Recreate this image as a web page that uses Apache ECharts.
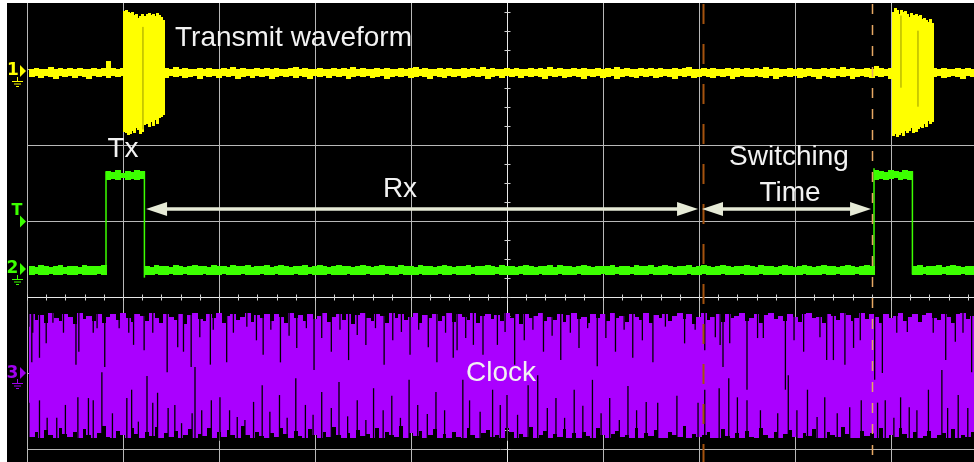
<!DOCTYPE html>
<html><head><meta charset="utf-8">
<script src="https://cdn.jsdelivr.net/npm/echarts@6/dist/echarts.min.js"></script>
<style>html,body{margin:0;padding:0;background:#fff}#c{width:974px;height:462px}</style>
</head><body><div id="c"></div>
<script>
// ===== DATA (x in divisions, y in hundredths of a division relative to each channel's ground marker) =====
const sliceStart = 0.023;   // first sample time (div)
const sliceStep = 0.05;     // sample spacing (div)

// Channel 1 (yellow) baseline envelope
const ch1Hi = [
5,6,5,5,7,5,6,5,6,5, 6,5,5,6,5,6,15,6,5,6, 5,6,5,5,6,5,6,5,6,5, 7,5,6,5,5,6,5,6,5,5,
6,5,7,5,6,5,5,6,5,6, 5,6,5,5,6,7,5,6,5,5, 6,5,5,6,5,6,5,7,5,6, 5,5,6,5,6,5,5,6,5,6,
7,5,6,5,5,6,5,6,5,5, 6,5,6,5,7,5,6,5,5,6, 5,6,5,5,6,5,6,5,7,5, 6,5,5,6,5,6,5,5,6,5,
6,5,7,5,6,5,5,6,5,6, 5,6,5,5,6,5,6,7,5,5, 6,5,6,5,5,6,5,6,5,6, 5,6,5,7,5,6,5,5,6,5,
6,5,6,5,5,6,5,6,5,7, 5,6,5,5,6,5,9,6,5,6, 5,6,5,6,5,5,6,5,6,5, 6,5,5,6,5,6,5];
const ch1Lo = [
-6,-5,-7,-5,-6,-8,-5,-6,-5,-7, -5,-6,-8,-5,-6,-5,-7,-5,-6,-5, -7,-5,-6,-5,-8,-6,-5,-6,-7,-5, -6,-5,-7,-6,-5,-8,-5,-6,-5,-7,
-5,-6,-5,-8,-6,-5,-7,-5,-6,-5, -8,-6,-5,-6,-5,-7,-5,-6,-8,-5, -6,-5,-7,-5,-6,-5,-8,-6,-5,-6, -5,-7,-6,-5,-8,-6,-5,-6,-5,-7,
-6,-5,-6,-8,-5,-6,-7,-5,-6,-5, -7,-6,-5,-6,-5,-8,-6,-5,-7,-5, -6,-5,-7,-5,-6,-5,-6,-8,-5,-6, -5,-7,-6,-5,-6,-8,-5,-6,-5,-7,
-6,-5,-8,-6,-5,-6,-7,-5,-6,-5, -7,-6,-5,-6,-8,-5,-6,-5,-7,-6, -5,-6,-7,-5,-6,-5,-8,-6,-5,-6, -6,-5,-6,-7,-5,-8,-6,-5,-6,-5,
-7,-6,-5,-6,-8,-5,-6,-7,-5,-6, -5,-8,-6,-5,-6,-7,-5,-6,-5,-8, -6,-5,-7,-6,-5,-6,-8,-5,-6,-5, -7,-6,-5,-6,-8,-5,-6];

// Channel 1 transmit bursts (finer sampling)
const burstStep = 0.02;
const burstStarts = [1.01, 9.02];
const burst1Hi = [81,82,80,78,80,76,77,72,74,77,74,73,77,78,76,77,74,78,76,73,69];
const burst1Lo = [-78,-80,-82,-81,-77,-80,-73,-76,-81,-78,-69,-59,-68,-72,-65,-70,-63,-68,-60,-59,-56];
const burst2Hi = [80,85,82,77,82,80,81,77,73,78,76,72,77,74,76,70,72,69,66,70,65];
const burst2Lo = [-84,-81,-85,-82,-80,-84,-77,-80,-77,-73,-80,-76,-78,-74,-72,-73,-68,-72,-64,-68,-65];
const burstShade = [[1.208,60,-75],[9.104,75,-20],[9.281,55,-45]];

// Channel 2 (green) envelope
const ch2Hi = [
5,4,6,5,4,5,6,4,5,5, 4,6,5,5,5,6,130,129,131,128, 130,129,131,130,5,4,6,5,5,4, 6,5,4,5,6,5,5,4,6,5,
5,4,6,5,5,6,4,5,5,6, 4,5,6,5,4,5,5,6,4,5, 6,5,4,5,6,5,5,4,5,6, 5,4,5,6,5,5,4,6,5,5,
4,6,5,5,4,5,6,5,4,5, 5,6,4,5,5,6,5,4,6,5, 5,4,5,6,5,4,5,5,6,4, 6,5,5,4,5,6,5,4,5,5,
5,6,4,5,5,4,6,5,5,6, 4,5,6,5,4,5,5,6,4,5, 6,5,4,5,6,5,4,5,5,6, 5,4,6,5,5,4,5,7,5,4,
5,6,5,4,5,6,5,5,4,5, 6,5,4,5,6,5,131,130,129,131, 130,129,131,130,5,6,4,5,5,6, 4,5,6,5,4,5,5];
const ch2Lo = [
-6,-5,-7,-6,-5,-6,-7,-5,-6,-6, -5,-7,-6,-6,-5,-7,119,120,118,121, 119,120,118,120,-6,-7,-5,-6,-7,-5, -6,-7,-5,-6,-6,-7,-5,-6,-7,-6,
-5,-6,-7,-6,-5,-6,-7,-6,-5,-7, -6,-5,-7,-6,-6,-5,-7,-6,-5,-6, -7,-6,-5,-6,-7,-6,-5,-7,-6,-6, -5,-7,-6,-6,-5,-7,-6,-5,-6,-7,
-6,-5,-7,-6,-6,-5,-7,-6,-5,-6, -7,-6,-5,-6,-7,-6,-6,-5,-7,-6, -6,-7,-5,-6,-6,-7,-5,-6,-7,-6, -5,-6,-7,-6,-5,-6,-7,-6,-6,-5,
-7,-6,-5,-6,-7,-5,-6,-6,-7,-5, -6,-7,-6,-5,-6,-7,-6,-5,-6,-7, -5,-6,-7,-6,-5,-6,-7,-6,-5,-6, -7,-6,-5,-6,-7,-6,-5,-6,-7,-6,
-6,-5,-7,-6,-6,-5,-7,-6,-5,-6, -7,-6,-5,-6,-7,-6,119,120,118,120, 121,119,120,118,-6,-7,-5,-6,-7,-6, -5,-6,-7,-6,-5,-6,-7];
// Channel 2 pulse edges: [time, low end, high end]
const ch2Edges = [[0.823,-3,130],[1.223,-10,130],[8.823,-3,134],[9.223,-6,130]];

// Channel 3 (purple clock) envelope
const ch3Hi = [
78,70,76,66,79,72,68,77,74,65, 79,71,75,68,78,66,74,77,70,79, 73,67,78,75,69,79,72,66,77,74, 70,78,65,76,79,71,68,77,73,79,
66,75,78,70,74,79,67,76,72,78, 69,77,74,66,79,73,76,68,78,71, 75,79,67,74,77,70,78,65,76,79, 72,68,78,75,66,79,73,77,70,74,
79,66,76,72,78,69,75,79,67,77, 74,70,79,66,75,78,71,76,68,79, 73,77,65,78,72,75,79,68,74,70, 78,67,76,79,71,74,66,78,73,77,
69,79,72,75,67,78,74,70,79,66, 76,73,78,68,75,79,71,77,65,74, 79,70,74,77,67,78,72,75,79,68, 73,78,66,76,79,71,75,69,78,74,
67,77,79,72,74,66,78,75,70,79, 76,68,73,79,71,77,74,66,78,72, 75,79,69,74,78,67,76,79,72,70, 78,74,66,77,79,71,75];
const ch3Lo = [
-84,-78,-86,-75,-82,-85,-72,-80,-84,-77, -86,-74,-81,-85,-79,-70,-84,-86,-76,-82, -85,-73,-80,-86,-78,-83,-71,-85,-79,-84, -76,-86,-81,-74,-85,-80,-83,-72,-86,-78,
-84,-75,-82,-86,-70,-81,-85,-77,-83,-86, -79,-84,-72,-80,-86,-76,-83,-85,-74,-81, -86,-78,-84,-71,-82,-85,-79,-86,-75,-83, -80,-85,-73,-86,-78,-82,-84,-70,-85,-79,
-83,-76,-86,-81,-74,-85,-80,-86,-77,-84, -85,-72,-82,-86,-79,-75,-84,-81,-86,-73, -78,-86,-80,-84,-71,-85,-82,-76,-86,-80, -84,-74,-85,-79,-86,-77,-83,-85,-72,-81,
-86,-80,-76,-84,-82,-86,-73,-85,-79,-83, -75,-85,-86,-78,-81,-84,-70,-86,-80,-84, -82,-77,-85,-86,-74,-83,-85,-79,-86,-76, -84,-86,-72,-81,-85,-78,-86,-80,-75,-84,
-86,-79,-83,-74,-85,-86,-77,-82,-84,-71, -80,-85,-86,-76,-83,-79,-85,-73,-86,-81, -84,-72,-80,-86,-78,-85,-83,-76,-86,-82, -79,-85,-74,-86,-81,-84,-78];
// Dropouts reaching down from the top of the clock trace: [time, lowest level]
const ch3TopGaps = [[0.02,61],[0.05,14],[0.06,53],[0.13,20],[0.20,39],[0.27,66],[0.38,53],[0.51,11],[0.54,28],[0.69,53],
[0.73,59],[0.81,8],[0.96,59],[1.06,53],[1.11,37],[1.22,30],[1.31,53],[1.46,1],[1.57,34],[1.63,28],[1.71,8],[1.80,47],[1.91,11],
[1.94,57],[2.08,14],[2.15,53],[2.29,61],[2.39,43],[2.46,24],[2.54,57],[2.64,14],[2.73,49],[2.81,33],[2.91,59],[2.99,4],[3.07,46],
[3.17,28],[3.26,57],[3.35,17],[3.44,50],[3.53,37],[3.63,59],[3.72,11],[3.81,43],[3.90,54],[3.99,24],[4.08,57],[4.18,34],[4.27,14],
[4.36,53],[4.44,20],[4.48,30],[4.57,46],[4.65,37],[4.75,24],[4.90,37],[4.98,54],[5.08,11],[5.18,43],[5.27,57],[5.38,28],[5.47,49],
[5.56,17],[5.66,53],[5.75,33],[5.84,59],[5.94,9],[6.03,46],[6.13,28],[6.22,57],[6.31,20],[6.41,43],[6.52,14],[6.65,61],[6.85,39],
[6.96,57],[7.06,30],[7.17,47],[7.22,37],[7.25,8],[7.32,39],[7.50,-22],[7.61,46],[7.67,46],[7.90,-22],[7.99,43],[8.09,28],[8.26,47],
[8.33,17],[8.40,17],[8.52,11],[8.61,33],[8.68,43],[8.83,-9],[8.91,0],[9.06,53],[9.17,54],[9.44,53],[9.57,17],[9.67,41],[9.75,53],[9.84,1]];
// Dropouts reaching up from the bottom of the clock trace: [time, highest level]
const ch3BottomGaps = [[0.02,-39],[0.13,-36],[0.21,-59],[0.31,-59],[0.40,-42],[0.53,-32],[0.64,-33],[0.69,-36],[0.78,1],[0.89,-53],
[1.04,-33],[1.09,-22],[1.16,-64],[1.25,-4],[1.31,-39],[1.36,-26],[1.47,-46],[1.54,-42],[1.61,-66],[1.72,-53],[1.75,8],[1.82,-49],
[1.92,-36],[2.01,-32],[2.11,-49],[2.19,-58],[2.27,-62],[2.36,-38],[2.45,-16],[2.53,-51],[2.63,-29],[2.71,-59],[2.80,-7],[2.90,-42],
[2.98,-55],[3.07,-25],[3.17,-46],[3.25,-12],[3.34,-57],[3.44,-36],[3.53,-62],[3.61,-20],[3.71,-49],[3.80,-30],[3.89,-59],[3.98,-9],
[4.07,-42],[4.17,-54],[4.26,-25],[4.35,-49],[4.54,-9],[4.61,-36],[4.72,-51],[4.85,-22],[4.93,-42],[5.00,-29],[5.11,-55],[5.22,-16],
[5.32,-3],[5.42,-46],[5.51,-33],[5.60,-59],[5.70,-22],[5.79,-43],[5.89,-9],[5.98,-53],[6.07,-33],[6.17,-62],[6.26,-17],[6.35,-49],
[6.45,-38],[6.57,-39],[6.77,-30],[6.99,-39],[7.06,-22],[7.21,-20],[7.31,-7],[7.40,-32],[7.50,-36],[7.64,-49],[7.82,-53],[7.93,-3],
[8.02,-49],[8.13,-22],[8.23,-58],[8.31,-32],[8.44,-53],[8.57,-45],[8.69,-36],[8.86,-39],[8.94,-36],[9.03,-59],[9.10,-32],[9.19,-45],
[9.27,-49],[9.39,-22],[9.53,4],[9.59,-46],[9.70,-29],[9.80,-46]];

// Cursors and measured intervals (div)
const cursorTimes = [7.042, 8.797];
const intervals = [[1.240, 6.990], [7.031, 8.792]];
const intervalLevel = 0.158;

// Graticule
const gridXs = [0,1,2,3,4,5,6,7,8,9];
const gridYs = [-3,-2,-1,0,1,2];

// ===== LAYOUT =====
const CH1 = 1.954, CH2 = -0.645, CH3 = -2.0;
const xMin = -20/96, xMax = 947/96, yMin = -241/76, yMax = 218/76;

const chart = echarts.init(document.getElementById('c'), null, {renderer: 'canvas'});

function sliceData(hi, lo, x0, step) { return hi.map((h, i) => [x0 + step * i, h / 100, lo[i] / 100]); }
function sliceRender(off, step, color) {
  return function (params, api) {
    const x = api.value(0);
    const a = api.coord([x, api.value(1) + off]);
    const b = api.coord([x + step, api.value(2) + off]);
    const x0 = Math.floor(a[0]), x1 = Math.ceil(b[0]);
    return {type: 'rect', shape: {x: x0, y: Math.round(a[1]), width: x1 - x0, height: Math.round(b[1]) - Math.round(a[1])}, style: {fill: color}};
  };
}
function vlineRender(off, color, width) {
  return function (params, api) {
    const x = api.value(0);
    const a = api.coord([x, api.value(1) / 100 + off]);
    const b = api.coord([x, api.value(2) / 100 + off]);
    return {type: 'line', shape: {x1: a[0], y1: a[1], x2: b[0], y2: b[1]}, style: {stroke: color, lineWidth: width}};
  };
}

// graticule items: [value, kind]
const gratData = [];
gridXs.forEach(v => gratData.push([v, 0]));
gridYs.forEach(v => gratData.push([v, 1]));
for (let y = -3; y <= 2.76; y += 0.25) gratData.push([y, 2]);
for (let x = 0; x <= 9.81; x += 0.2) gratData.push([x, 3]);

function gratRender(params, api) {
  const v = api.value(0), k = api.value(1);
  if (k === 0) {
    const a = api.coord([v, yMax]), b = api.coord([v, yMin]);
    const x = Math.round(a[0]) + 0.5;
    return {type: 'line', shape: {x1: x, y1: a[1], x2: x, y2: b[1]}, style: {stroke: v === 5 ? '#e8e8e8' : '#b8b8b8', lineWidth: 1}};
  }
  if (k === 1) {
    const a = api.coord([0, v]), b = api.coord([xMax, v]);
    const y = Math.round(a[1]) + 0.5;
    return {type: 'line', shape: {x1: a[0], y1: y, x2: b[0], y2: y}, style: {stroke: v === -1 ? '#e8e8e8' : '#b8b8b8', lineWidth: 1}};
  }
  if (k === 2) {
    const a = api.coord([5, v]);
    const y = Math.round(a[1]) + 0.5, x = Math.round(a[0]) + 0.5;
    return {type: 'line', shape: {x1: x - 3, y1: y, x2: x + 3, y2: y}, style: {stroke: '#d0d0d0', lineWidth: 1}};
  }
  const a = api.coord([v, -1]);
  const y = Math.round(a[1]) + 0.5, x = Math.round(a[0]) + 0.5;
  return {type: 'line', shape: {x1: x, y1: y - 3, x2: x, y2: y + 3}, style: {stroke: '#d0d0d0', lineWidth: 1}};
}

function cursorRender(params, api) {
  const x = api.value(0), i = params.dataIndex;
  const a = api.coord([x, yMax]), b = api.coord([x, yMin]);
  const px = Math.round(a[0]) + 0.5;
  const st = i === 0 ? {stroke: '#a4520e', lineWidth: 2, lineDash: [20, 20]} : {stroke: '#e6a864', lineWidth: 1.5, lineDash: [10, 11]};
  return {type: 'line', shape: {x1: px, y1: a[1] + 1, x2: px, y2: b[1]}, style: st};
}

function arrowRender(params, api) {
  const a = api.coord([api.value(0), intervalLevel]), b = api.coord([api.value(1), intervalLevel]);
  const L = 21, W = 7, col = '#e6ead6', y = Math.round(a[1]);
  return {type: 'group', children: [
    {type: 'line', shape: {x1: a[0] + L - 2, y1: y, x2: b[0] - L + 2, y2: y}, style: {stroke: col, lineWidth: 3.5}},
    {type: 'polygon', shape: {points: [[a[0], y], [a[0] + L, y - W], [a[0] + L, y + W]]}, style: {fill: col}},
    {type: 'polygon', shape: {points: [[b[0], y], [b[0] - L, y - W], [b[0] - L, y + W]]}, style: {fill: col}}
  ]};
}

const YEL = '#ffff00', GRN = '#3cff00', PUR = '#aa00ff';
const custom = (name, z, data, renderItem) => ({type: 'custom', name, z, data, renderItem, silent: true, coordinateSystem: 'cartesian2d', encode: {x: 0, y: 1}});

const series = [
  custom('graticule', 1, gratData, gratRender),
  custom('ch1', 2, sliceData(ch1Hi, ch1Lo, sliceStart, sliceStep), sliceRender(CH1, sliceStep, YEL)),
  custom('burst1', 3, sliceData(burst1Hi, burst1Lo, burstStarts[0], burstStep), sliceRender(CH1, burstStep, YEL)),
  custom('burst2', 3, sliceData(burst2Hi, burst2Lo, burstStarts[1], burstStep), sliceRender(CH1, burstStep, YEL)),
  custom('burstShade', 4, burstShade, vlineRender(CH1, '#9a9a00', 1)),
  custom('ch2', 2, sliceData(ch2Hi, ch2Lo, sliceStart, sliceStep), sliceRender(CH2, sliceStep, GRN)),
  custom('ch2edges', 3, ch2Edges, vlineRender(CH2, GRN, 1.5)),
  custom('ch3', 3, sliceData(ch3Hi, ch3Lo, sliceStart, sliceStep), sliceRender(CH3, sliceStep, PUR)),
  custom('ch3top', 4, ch3TopGaps.map(d => [d[0], 82, d[1]]), vlineRender(CH3, '#000000', 1.3)),
  custom('ch3bot', 4, ch3BottomGaps.map(d => [d[0], -89, d[1]]), vlineRender(CH3, '#000000', 1.3)),
  custom('cursors', 5, cursorTimes.map(t => [t, 0]), cursorRender),
  custom('intervals', 6, intervals, arrowRender)
];

const txt = (t, x, y, align) => ({type: 'text', x, y, z: 20, silent: true,
  style: {text: t, fill: '#f2f2f2', font: '28px "Liberation Sans", Arial, sans-serif', align, verticalAlign: 'middle', textAlign: align, textVerticalAlign: 'middle'}});
const mark = (t, color, tx, ty, size) => ({type: 'text', x: tx, y: ty, z: 20, silent: true,
  style: {text: t, fill: color, font: 'bold ' + size + 'px "DejaVu Sans", sans-serif', align: 'center', verticalAlign: 'middle', textAlign: 'center', textVerticalAlign: 'middle'}});
const tri = (color, y) => ({type: 'polygon', z: 20, silent: true, shape: {points: [[20, y - 6], [26, y], [20, y + 6]]}, style: {fill: color}});
const ground = (color, y) => ({type: 'group', z: 20, silent: true, children: [
  {type: 'line', shape: {x1: 17.5, y1: y, x2: 17.5, y2: y + 4}, style: {stroke: color, lineWidth: 1}},
  {type: 'line', shape: {x1: 12, y1: y + 4.5, x2: 23, y2: y + 4.5}, style: {stroke: color, lineWidth: 1}},
  {type: 'line', shape: {x1: 14, y1: y + 7, x2: 21, y2: y + 7}, style: {stroke: color, lineWidth: 1}},
  {type: 'line', shape: {x1: 16, y1: y + 9.5, x2: 19, y2: y + 9.5}, style: {stroke: color, lineWidth: 1}}
]});

const graphic = [
  txt('Transmit waveform', 175, 38, 'left'),
  txt('Tx', 123, 149, 'center'),
  txt('Rx', 400, 189.5, 'center'),
  txt('Switching', 789, 157.5, 'center'),
  txt('Time', 790, 193, 'center'),
  txt('Clock', 501, 373, 'center'),
  mark('1', YEL, 13, 71, 17), tri(YEL, 71), ground(YEL, 77),
  mark('T', GRN, 17, 211, 16), tri(GRN, 221.5),
  mark('2', GRN, 12.5, 269, 17), tri(GRN, 269), ground(GRN, 275),
  mark('3', '#a000f0', 12.5, 373.5, 17), tri('#a000f0', 373), ground('#a000f0', 379)
];

chart.setOption({
  backgroundColor: '#ffffff',
  animation: false,
  grid: {left: 7, right: 0, top: 3, bottom: 0, show: true, backgroundColor: '#000000', borderWidth: 0},
  xAxis: {type: 'value', min: xMin, max: xMax, show: false},
  yAxis: {type: 'value', min: yMin, max: yMax, show: false},
  series,
  graphic
});
</script></body></html>
